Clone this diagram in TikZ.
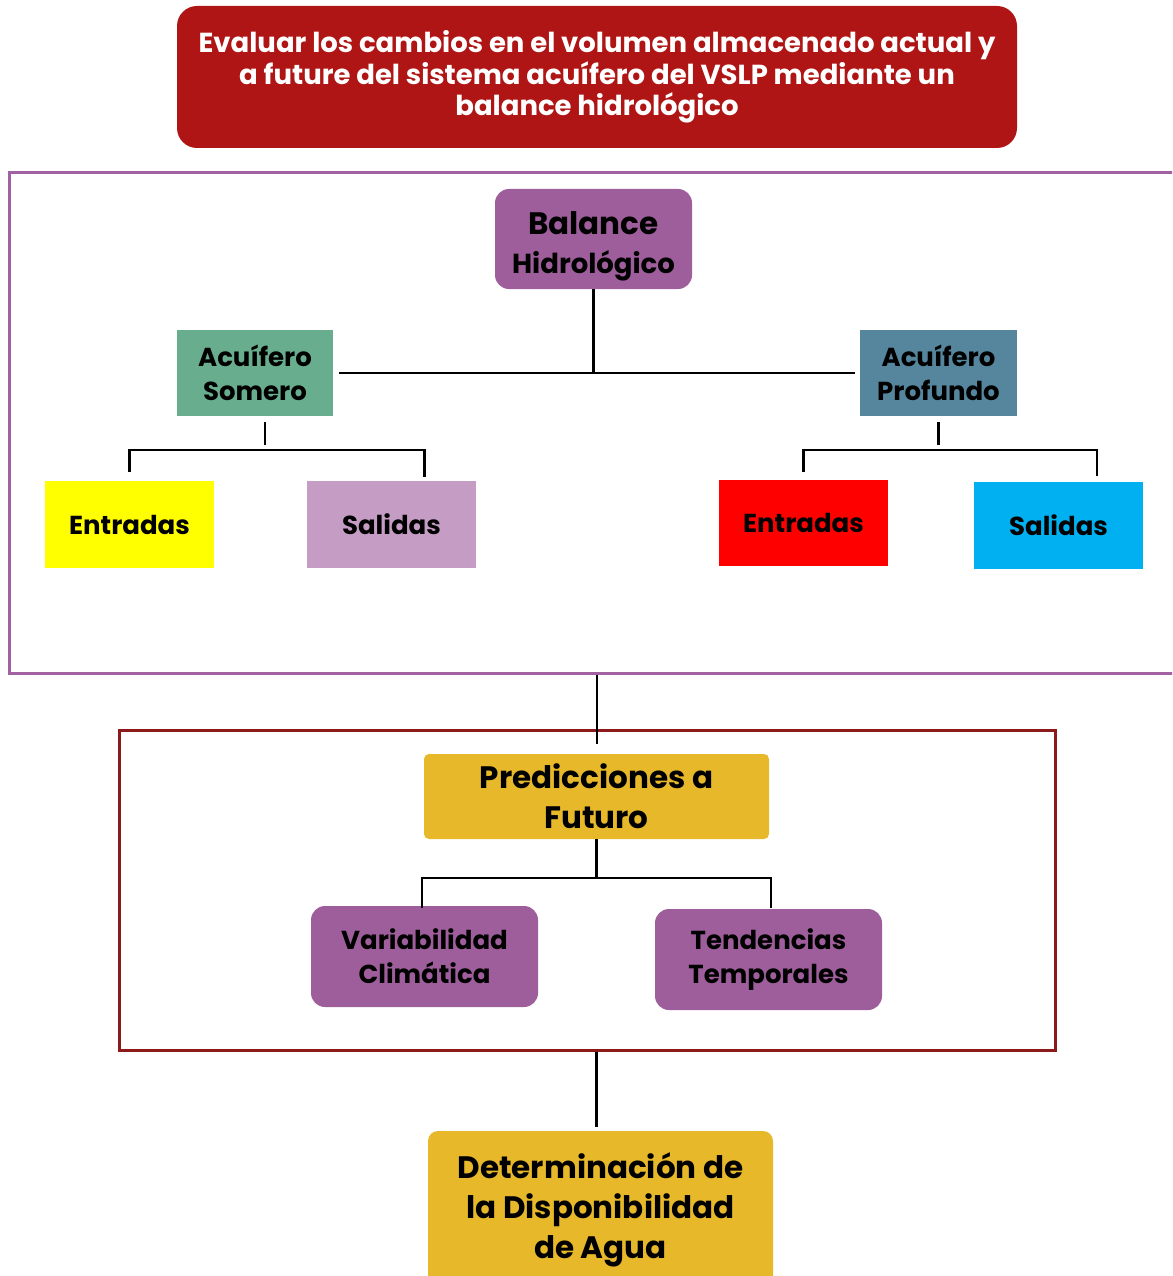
\documentclass[tikz,border=0pt]{standalone}
\usepackage{fontspec}
\setmainfont{Poppins}
\usetikzlibrary{positioning,calc}
\definecolor{titlered}{HTML}{B01515}
\definecolor{framepurple}{HTML}{A262A2}
\definecolor{boxpurple}{HTML}{9E5E9B}
\definecolor{sage}{HTML}{68AE8E}
\definecolor{steel}{HTML}{55869D}
\definecolor{lemon}{HTML}{FFFF00}
\definecolor{lilac}{HTML}{C49CC4}
\definecolor{brightred}{HTML}{FF0000}
\definecolor{sky}{HTML}{00B0F0}
\definecolor{gold}{HTML}{E6B82A}
\definecolor{darkred}{HTML}{8C1A1A}
\tikzset{
  box/.style={align=center,inner sep=0pt,font=\bfseries\fontsize{26}{34}\selectfont},
  roundbox/.style={box,rounded corners=14pt},
  conn/.style={draw=black,line width=2.2pt},
  frame/.style={draw,line width=3pt,inner sep=0pt}
}
\begin{document}
\begin{tikzpicture}[x=1pt,y=-1pt]
  \useasboundingbox (0,0) rectangle (1172,1276);
  \clip (0,0) rectangle (1172,1276);
  % objetivo
  \node[roundbox,fill=titlered,text=white,rounded corners=20pt,minimum width=840,minimum height=142,
    font=\bfseries\fontsize{27.5}{31.5}\selectfont] (obj) at (597,77)
    {Evaluar los cambios en el volumen almacenado actual y\\a future del sistema acuífero del VSLP mediante un\\balance hidrológico};
  % balance
  \node[frame,draw=framepurple,minimum width=1176,minimum height=500] (marco1) at (597,423) {};
  \node[roundbox,fill=boxpurple,minimum width=197,minimum height=100,text height=76pt,
    font=\bfseries\fontsize{27.5}{39}\selectfont] (balance) at (593.5,239)
    {{\fontsize{31}{39}\selectfont Balance}\\Hidrológico};
  \node[box,fill=sage,minimum width=156,minimum height=86] (somero) at (255,373) {Acuífero\\Somero};
  \node[box,fill=steel,minimum width=157,minimum height=86] (profundo) at (938.5,373) {Acuífero\\Profundo};
  \node[box,fill=lemon,minimum width=169,minimum height=87] (ent1) at (129.5,524.5) {Entradas};
  \node[box,fill=lilac,minimum width=169,minimum height=87] (sal1) at (391.5,524.5) {Salidas};
  \node[box,fill=brightred,minimum width=169,minimum height=86] (ent2) at (803.5,523) {Entradas};
  \node[box,fill=sky,minimum width=169,minimum height=87] (sal2) at (1058.5,525.5) {Salidas};
  \draw[conn] (balance.south) -- (balance.south |- somero.east);
  \draw[conn] ($(somero.east)+(6,0)$) -- ($(profundo.west)+(-5,0)$);
  \draw[conn] ($(somero.south)+(10,6)$) -- ++(0,23);
  \draw[conn] ($(ent1.north)+(0,-9)$) |- ($(sal1.north)+(33,-31)$) -- ($(sal1.north)+(33,-4)$);
  \draw[conn] ($(profundo.south)+(0,6)$) -- ++(0,23);
  \draw[conn] ($(ent2.north)+(0,-8)$) |- ($(sal2.north)+(38.5,-32)$) -- ($(sal2.north)+(38.5,-6)$);
  % predicciones
  \node[frame,draw=darkred,minimum width=936,minimum height=320] (marco2) at (587,890) {};
  \node[roundbox,fill=gold,rounded corners=5pt,minimum width=345,minimum height=85,
    font=\bfseries\fontsize{31}{40}\selectfont] (pred) at (596.5,796.5) {Predicciones a\\Futuro};
  \node[roundbox,fill=boxpurple,minimum width=227,minimum height=101] (var) at (424.5,956.5) {Variabilidad\\Climática};
  \node[roundbox,fill=boxpurple,minimum width=227,minimum height=101] (tend) at (768.5,959.5) {Tendencias\\Temporales};
  \draw[conn] (marco1.south) -- ($(marco1.south |- pred.north)+(0,-10)$);
  \draw[conn] (pred.south) -- ++(0,39);
  \draw[conn] ($(var.north)+(-2.5,2)$) |- ($(tend.north)+(2.5,-31)$) -- ($(tend.north)+(2.5,-1)$);
  % disponibilidad
  \node[roundbox,fill=gold,rounded corners=10pt,minimum width=345,minimum height=158,
    font=\bfseries\fontsize{31}{40}\selectfont] (det) at (600.5,1210)
    {Determinación de\\la Disponibilidad\\de Agua};
  \draw[conn] (marco2.south -| pred.south) -- ($(det.north -| pred.south)+(0,-4)$);
\end{tikzpicture}
\end{document}
